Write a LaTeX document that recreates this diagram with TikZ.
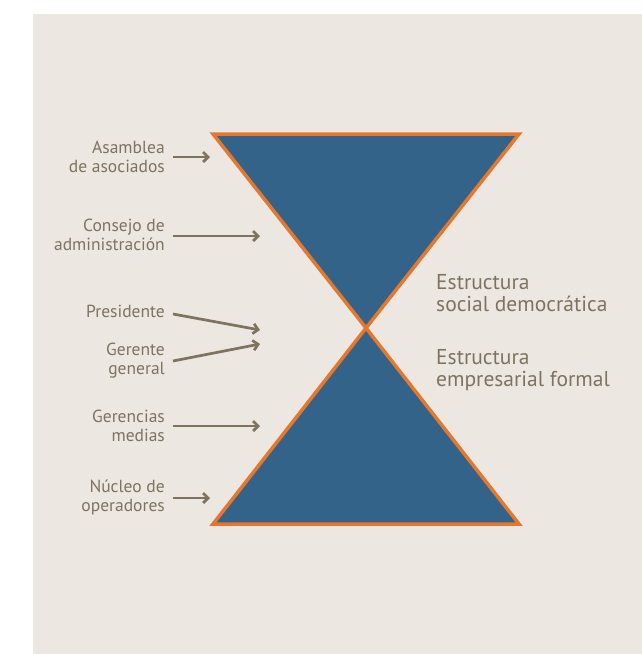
\documentclass[tikz,border=0pt]{standalone}
\usepackage{fontspec}
\setmainfont{PT Sans}
\usetikzlibrary{arrows.meta}
\definecolor{fondo}{HTML}{ECE7E1}
\definecolor{texto}{HTML}{7E7363}
\definecolor{flecha}{HTML}{7F7360}
\definecolor{azul}{HTML}{336389}
\definecolor{borde}{HTML}{E5782E}
\tikzset{
  etiqueta/.style={anchor=east,align=right,inner sep=0pt,text=texto,font=\fontsize{17.5}{19}\selectfont},
  estructura/.style={anchor=west,align=left,inner sep=0pt,text=texto,font=\fontsize{21.5}{22.5}\selectfont},
  flechita/.style={draw=flecha,line width=2.7pt,-{Straight Barb[length=5pt,width=10pt]}},
  triangulo/.style={fill=azul,draw=borde,line width=3.5pt,line join=miter}
}
\begin{document}
\begin{tikzpicture}[x=1pt,y=-1pt]
\useasboundingbox (0,0) rectangle (642,654);
\fill[fondo] (33,14) rectangle (642,654);
% reloj de arena
\draw[triangulo] (213,134) -- (519,134) -- (366,328) -- cycle;
\draw[triangulo] (213,524) -- (519,524) -- (366,328) -- cycle;
% etiquetas
\node[etiqueta] (asamblea) at (165,157) {Asamblea\\de asociados};
\node[etiqueta] (consejo) at (165,235) {Consejo de\\administración};
\node[etiqueta] (presidente) at (165,311) {Presidente};
\node[etiqueta] (gerente) at (165,361) {Gerente\\general};
\node[etiqueta] (gerencias) at (165,426) {Gerencias\\medias};
\node[etiqueta] (nucleo) at (165,497) {Núcleo de\\operadores};
\node[estructura] (social) at (436,293) {Estructura\\social democrática};
\node[estructura] (empresarial) at (436,370) {Estructura\\empresarial formal};
% flechas
\coordinate (a1) at (210,157);
\coordinate (a2) at (260,236);
\coordinate (a3) at (260,330);
\coordinate (a4) at (260,344);
\coordinate (a5) at (260,426);
\coordinate (a6) at (210,498);
\draw[flechita] ([xshift=8pt]asamblea.east) -- (a1);
\draw[flechita] ([xshift=8pt,yshift=-1pt]consejo.east) -- (a2);
\draw[flechita] ([xshift=8pt,yshift=-3pt]presidente.east) -- (a3);
\draw[flechita] ([xshift=8pt]gerente.east) -- (a4);
\draw[flechita] ([xshift=8pt]gerencias.east) -- (a5);
\draw[flechita] ([xshift=8pt,yshift=-1pt]nucleo.east) -- (a6);
\end{tikzpicture}
\end{document}
